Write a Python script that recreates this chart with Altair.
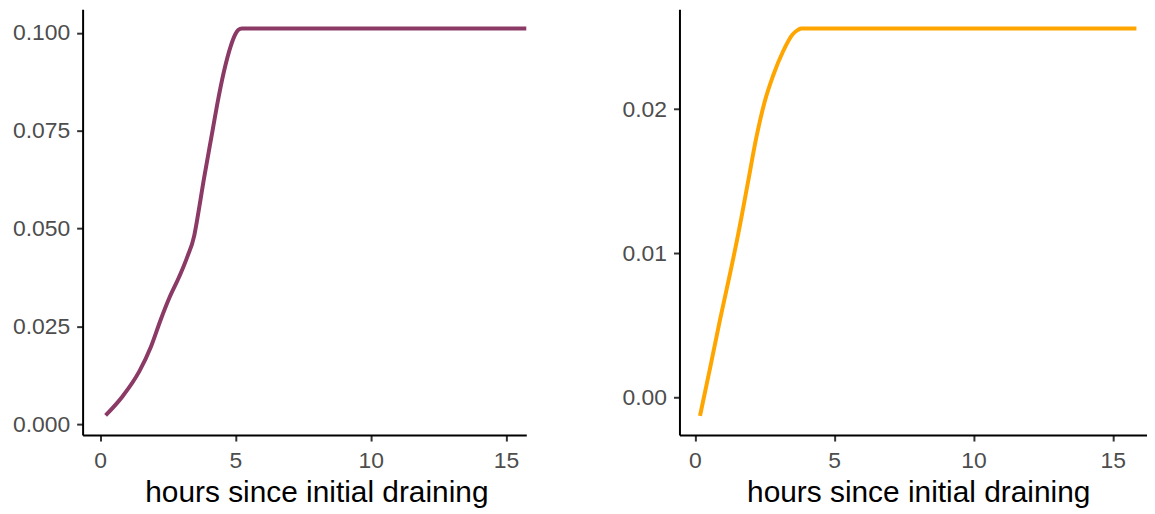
import altair as alt
import pandas as pd

# Left panel (purple)
left_hours = [0.2, 0.83, 1.45, 1.88, 2.24, 2.55, 2.92, 3.22, 3.47, 3.59, 3.83, 4.14, 4.32, 4.57, 4.82, 5.0, 5.1, 5.24, 15.9]
left_values = [0.0023, 0.0072, 0.0136, 0.0199, 0.0268, 0.0322, 0.0377, 0.0428, 0.0480, 0.0525, 0.0625, 0.0745,
               0.0815, 0.0900, 0.0965, 0.0997, 0.1007, 0.1011, 0.1011]

# Right panel (orange)
right_hours = [0.18, 0.54, 0.89, 1.25, 1.55, 1.67, 1.91, 2.2, 2.5, 2.8, 3.16, 3.51, 3.7, 3.81, 15.85]
right_values = [-0.0013, 0.0020, 0.0053, 0.0085, 0.0113, 0.0125, 0.0150, 0.0180, 0.0205, 0.0223, 0.0240,
                0.0252, 0.0255, 0.0256, 0.0256]

x_ticks = [0, 5, 10, 15]
left_y_ticks = [0.0, 0.025, 0.05, 0.075, 0.1]
right_y_ticks = [0.0, 0.01, 0.02]

X_TITLE = "hours since initial draining"


def panel(hours, values, color, xdom, ydom, yticks, yfmt, width, extent, title_x):
    df = pd.DataFrame({"hours": hours, "value": values})
    return (
        alt.Chart(df)
        .mark_line(color=color, strokeWidth=4, clip=True, interpolate="monotone")
        .encode(
            x=alt.X(
                "hours:Q",
                scale=alt.Scale(domain=xdom, nice=False, zero=False),
                axis=alt.Axis(title=X_TITLE, values=x_ticks, format="d", titleX=title_x),
            ),
            y=alt.Y(
                "value:Q",
                scale=alt.Scale(domain=ydom, nice=False, zero=False),
                axis=alt.Axis(title=None, values=yticks, format=yfmt,
                              minExtent=extent, maxExtent=extent),
            ),
        )
        .properties(width=width, height=428)
    )


left = panel(left_hours, left_values, "#8B3A66", [-0.65, 15.75], [-0.00272, 0.106],
             left_y_ticks, ".3f", 446, 75, 235)
right = panel(right_hours, right_values, "#FFA500", [-0.557, 16.23], [-0.00263, 0.02693],
              right_y_ticks, ".2f", 470, 50, 240)

chart = (
    alt.hconcat(left, right, spacing=96)
    .properties(padding=0)
    .configure_view(stroke=None)
    .configure_axis(
        grid=False,
        domainColor="#000000",
        domainWidth=2,
        tickColor="#333333",
        tickWidth=2,
        tickSize=6,
        labelFont="Liberation Sans",
        labelFontSize=23,
        labelColor="#4D4D4D",
        titleFont="Liberation Sans",
        titleFontSize=30,
        titleFontWeight="normal",
        titleColor="#000000",
    )
    .configure_axisX(labelPadding=9, titlePadding=5)
    .configure_axisY(labelPadding=7)
)

chart.save("out.html", embed_options={"renderer": "svg", "actions": False})
